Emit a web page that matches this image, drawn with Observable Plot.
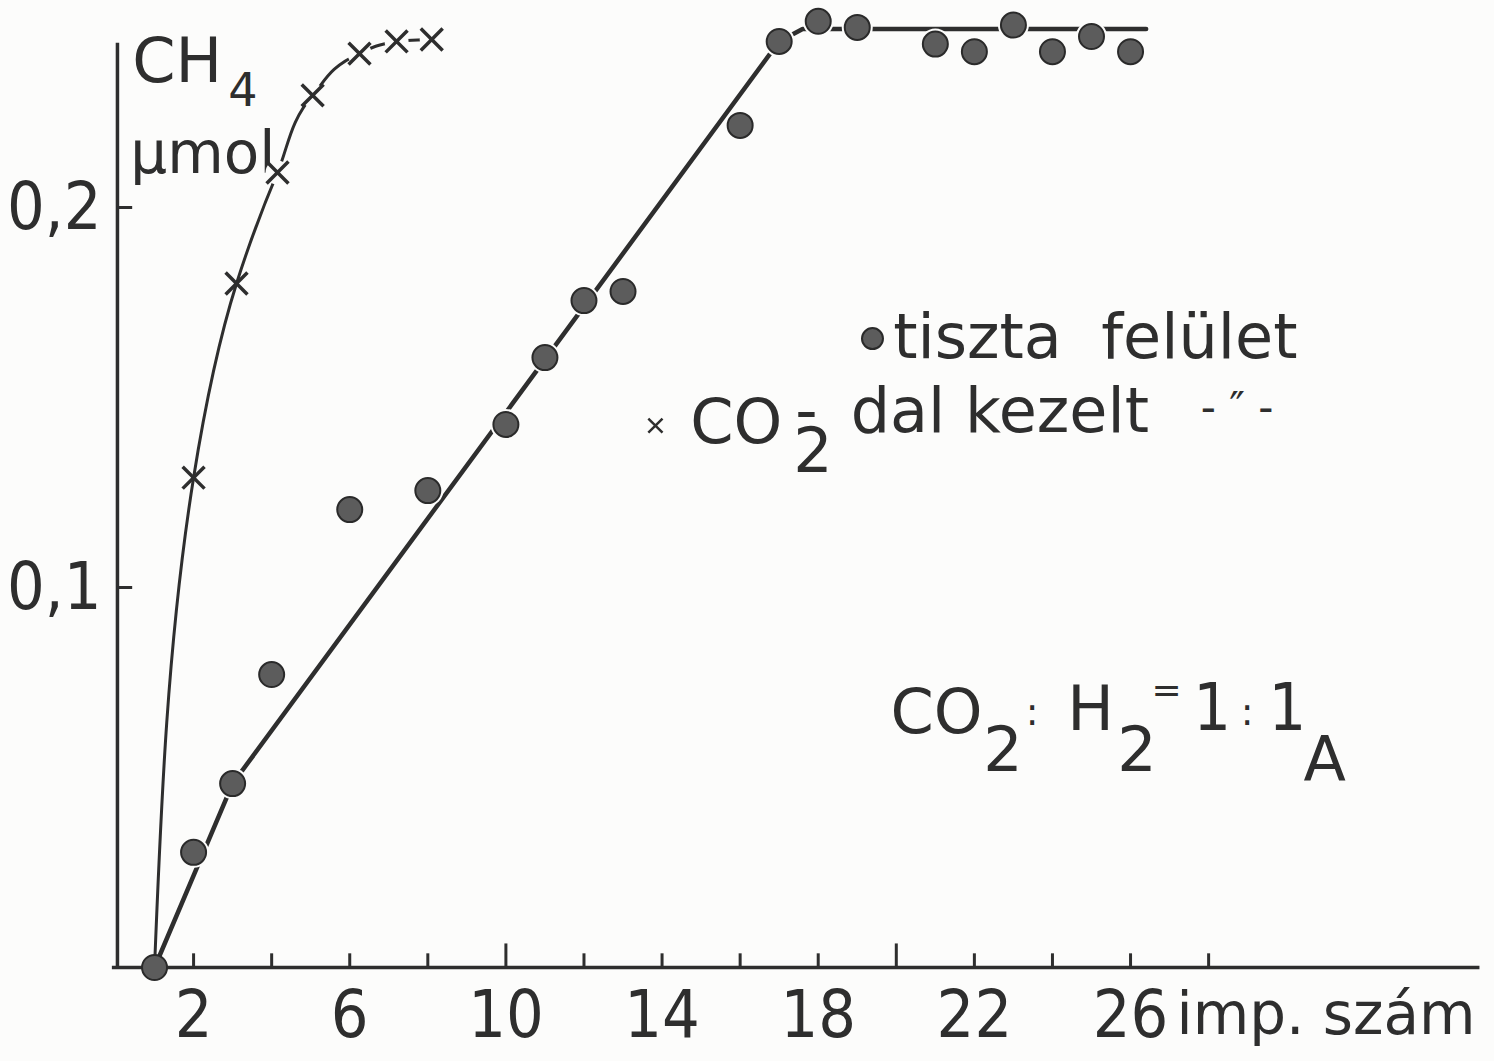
<!DOCTYPE html>
<html>
<head>
<meta charset="utf-8">
<script src="https://cdn.jsdelivr.net/npm/d3@7"></script>
<script src="https://cdn.jsdelivr.net/npm/@observablehq/plot@0.6"></script>
<style>
  html, body { margin: 0; padding: 0; background: #fcfcfb; }
  #chart svg { display: block; }
</style>
</head>
<body>
<div id="chart"></div>
<script>
// CH4 formed vs. impulse number, clean surface (dots)
const cleanImp = [1, 2, 3, 4, 6, 8, 10, 11, 12, 13, 16, 17, 18, 19, 21, 22, 23, 24, 25, 26];
const cleanCH4 = [0, 0.0303, 0.0484, 0.0771, 0.1205, 0.1255, 0.1429, 0.1605, 0.1755, 0.1779,
                  0.2216, 0.2437, 0.2490, 0.2474, 0.2430, 0.2410, 0.2480, 0.2410, 0.2450, 0.2410];

// CO2-treated surface (crosses)
const treatedImp = [1, 2, 3.1, 4.15, 5.05, 6.25, 7.2, 8.1];
const treatedCH4 = [0, 0.1289, 0.1800, 0.2092, 0.2295, 0.2405, 0.2437, 0.2442];

// hand-drawn trend for the clean surface: rise, then plateau
const trendImp = [1, 3, 17, 17.6, 26.4];
const trendCH4 = [0, 0.0484, 0.2437, 0.2470, 0.2470];

// axis ticks
const xTickLabels = [2, 6, 10, 14, 18, 22, 26];
const xMinorTicks = [2, 4, 6, 8, 12, 14, 16, 18, 22, 24, 26, 28];
const xMajorTicks = [10, 20];
const yTicks = [0.1, 0.2];

const clean = cleanImp.map((imp, i) => ({imp, ch4: cleanCH4[i]}));
const treated = treatedImp.map((imp, i) => ({imp, ch4: treatedCH4[i]}));
const trend = trendImp.map((imp, i) => ({imp, ch4: trendCH4[i]}));

const bg = "#fcfcfb";
const ink = "#2e2e2e";
const textFont = "DejaVu Sans, sans-serif";
const numFont = "'Liberation Sans Narrow', 'DejaVu Sans Condensed', sans-serif";
const treatedText = "CO2-dal kezelt";

// one piece of lettering placed in data coordinates
function label(str, x, y, o = {}) {
  return Plot.text([str], {
    x, y, text: d => d,
    fill: ink, fontFamily: textFont, fontSize: 62,
    textAnchor: "start", lineAnchor: "bottom", ...o
  });
}

const chart = Plot.plot({
  width: 1494,
  height: 1061,
  marginLeft: 115,
  marginRight: 12.6,
  marginTop: 36,
  marginBottom: 94,
  x: {domain: [0, 35], axis: null},
  y: {domain: [0, 0.245], axis: null},
  style: {background: bg, overflow: "visible"},
  marks: [
    // axes
    Plot.ruleY([0], {x1: -0.08, x2: 34.95, stroke: ink, strokeWidth: 3.5}),
    Plot.ruleX([0.05], {y1: 0, y2: 0.2432, stroke: ink, strokeWidth: 3.5}),
    Plot.ruleX(xMinorTicks, {y1: 0, y2: 0.0036, stroke: ink, strokeWidth: 3}),
    Plot.ruleX(xMajorTicks, {y1: 0, y2: 0.0062, stroke: ink, strokeWidth: 3}),
    Plot.ruleY(yTicks, {x1: 0.05, x2: 0.44, stroke: ink, strokeWidth: 3}),
    Plot.text(yTicks, {
      x: 0, y: d => d, text: d => String(d).replace(".", ","),
      textAnchor: "end", dx: -14, fontSize: 66, fontFamily: numFont, fill: ink
    }),
    Plot.text(xTickLabels, {
      x: d => d, y: 0, text: d => String(d),
      dy: 48, fontSize: 66, fontFamily: numFont, fill: ink
    }),
    label("imp. szám", 26, 0, {dx: 46, dy: 48, lineAnchor: "middle", fontSize: 58}),

    // y axis title
    label("CH", 0.43, 0.2329),
    label("4", 2.89, 0.2268, {fontSize: 46}),
    label("μmol", 0.38, 0.2092, {fontSize: 58}),

    // curves
    Plot.line(trend, {x: "imp", y: "ch4", stroke: ink, strokeWidth: 4.5}),
    Plot.line(treated, {x: "imp", y: "ch4", stroke: ink, strokeWidth: 3, curve: "monotone-y"}),

    // small gaps in the pen line around the marks
    Plot.dot(clean.filter(d => d.ch4 > 0), {x: "imp", y: "ch4", r: 15.5, fill: bg}),
    Plot.dot(treated.filter(d => d.imp >= 4), {x: "imp", y: "ch4", r: 12, fill: bg}),

    // measured points
    Plot.dot(clean, {x: "imp", y: "ch4", r: 12.5, fill: "#5c5c5c", stroke: "#2a2a2a", strokeWidth: 2}),
    Plot.dot(treated.filter(d => d.ch4 > 0), {x: "imp", y: "ch4", r: 10, symbol: "times", stroke: ink, strokeWidth: 3.5}),

    // legend
    Plot.dot([0], {x: 19.39, y: 0.1655, r: 10.5, fill: "#5c5c5c", stroke: "#2a2a2a", strokeWidth: 2}),
    label("tiszta  felület", 19.92, 0.1603),
    Plot.dot([0], {x: 13.83, y: 0.1426, r: 6.5, symbol: "times", stroke: ink, strokeWidth: 2.5}),
    label(treatedText, 14.72, 0.1379),
    label("- \u2033 -", 28.73, 0.1471, {textAnchor: "middle", lineAnchor: "middle", fontSize: 42}),

    // gas ratio and panel letter
    label("CO", 19.85, 0.0616),
    label("2", 22.23, 0.0518),
    label(":", 23.48, 0.0639, {textAnchor: "middle", fontSize: 38}),
    label("H", 24.38, 0.0624),
    label("2", 25.66, 0.0518),
    label("=", 26.92, 0.0729, {textAnchor: "middle", lineAnchor: "middle", fontSize: 36}),
    label("1", 28.09, 0.0624, {textAnchor: "middle", fontFamily: numFont, fontSize: 66}),
    label(":", 28.99, 0.0639, {textAnchor: "middle", fontSize: 38}),
    label("1", 30.02, 0.0624, {textAnchor: "middle", fontFamily: numFont, fontSize: 66}),
    label("A", 30.43, 0.0492)
  ]
});

// lettering of "CO2-dal kezelt": lowered 2, hyphen lifted above it
d3.select(chart).selectAll("text")
  .filter(function () { return this.textContent === treatedText; })
  .each(function () {
    const t = d3.select(this);
    t.text(null);
    [
      {s: "CO", dx: 0, dy: 0},
      {s: "2", dx: 11, dy: 29},
      {s: "-", dx: -37.4, dy: -40},
      {s: "dal kezelt", dx: 33, dy: 0}
    ].forEach(p => t.append("tspan").attr("dx", p.dx).attr("dy", p.dy).text(p.s));
  });

document.getElementById("chart").append(chart);
</script>
</body>
</html>
